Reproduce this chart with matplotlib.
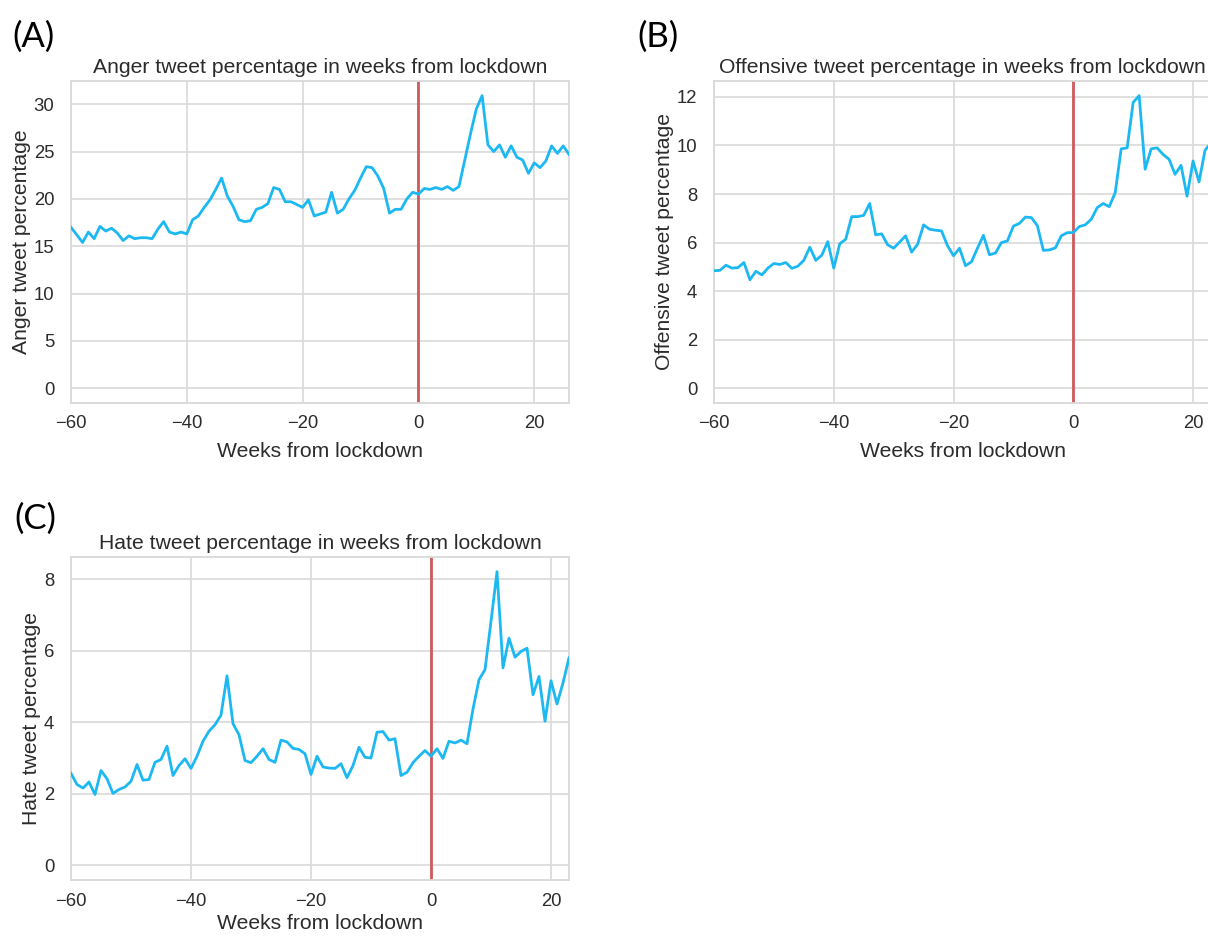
"""Three-panel tweet percentage figure: anger, offensive, hate vs weeks from lockdown."""

import matplotlib
matplotlib.use("Agg")
import matplotlib.pyplot as plt

LINE_BLUE = "#1cb8f2"
LOCK_RED = "#d0595b"
GRID = "#d9d9d9"
INK = "#2b2b2b"

plt.rcParams.update({
    "font.family": ["Liberation Sans", "DejaVu Sans"],
    "text.color": INK,
    "axes.labelcolor": INK,
    "xtick.color": INK,
    "ytick.color": INK,
    "axes.edgecolor": GRID,
    "axes.linewidth": 1.3,
    "grid.color": GRID,
    "grid.linewidth": 1.2,
    "xtick.major.size": 0,
    "ytick.major.size": 0,
    "xtick.labelsize": 13.3,
    "ytick.labelsize": 13.3,
    "axes.labelsize": 15.2,
    "axes.titlesize": 15.2,
})

# weeks relative to lockdown
WEEKS_A = list(range(-60, 27))
WEEKS_BC = list(range(-60, 24))

ANGER = [17.0, 16.2, 15.4, 16.5, 15.8, 17.1, 16.6, 16.9, 16.4, 15.6, 16.1,
         15.8, 15.9, 15.9, 15.8, 16.8, 17.6, 16.5, 16.3, 16.5, 16.3,
         17.8, 18.2, 19.1, 19.9, 21.0, 22.2, 20.3, 19.2, 17.8, 17.6,
         17.7, 18.9, 19.1, 19.5, 21.2, 21.0, 19.7, 19.7, 19.4, 19.1,
         19.9, 18.2, 18.4, 18.6, 20.7, 18.5, 18.9, 20.0, 20.9, 22.2,
         23.4, 23.3, 22.4, 21.1, 18.5, 18.9, 18.9, 20.0, 20.7, 20.5,
         21.1, 21.0, 21.2, 21.0, 21.3, 20.9, 21.3, 24.1, 26.9, 29.5,
         30.9, 25.7, 25.0, 25.7, 24.4, 25.6, 24.4, 24.1, 22.7, 23.8,
         23.3, 24.0, 25.6, 24.8, 25.6, 24.7]

OFFENSIVE = [4.84, 4.86, 5.07, 4.95, 4.97, 5.18, 4.47, 4.82, 4.67, 4.95, 5.14,
             5.10, 5.18, 4.94, 5.03, 5.27, 5.81, 5.27, 5.48, 6.04, 4.95,
             5.95, 6.14, 7.07, 7.07, 7.12, 7.61, 6.32, 6.36, 5.91, 5.77,
             6.02, 6.28, 5.61, 5.93, 6.73, 6.55, 6.51, 6.48, 5.87, 5.46,
             5.77, 5.05, 5.21, 5.77, 6.30, 5.50, 5.57, 6.00, 6.07, 6.68,
             6.79, 7.05, 7.03, 6.70, 5.68, 5.70, 5.78, 6.28, 6.41, 6.41,
             6.66, 6.73, 6.96, 7.44, 7.61, 7.48, 8.05, 9.86, 9.90, 11.77,
             12.05, 9.02, 9.86, 9.90, 9.63, 9.43, 8.81, 9.18, 7.91, 9.36,
             8.50, 9.80, 10.1]

HATE = [2.57, 2.26, 2.16, 2.33, 1.98, 2.65, 2.42, 2.01, 2.12, 2.19, 2.35,
        2.82, 2.38, 2.40, 2.88, 2.96, 3.33, 2.51, 2.79, 2.98, 2.71,
        3.05, 3.47, 3.75, 3.93, 4.20, 5.30, 3.96, 3.65, 2.93, 2.87,
        3.05, 3.26, 2.96, 2.88, 3.50, 3.45, 3.27, 3.24, 3.12, 2.54,
        3.05, 2.75, 2.72, 2.71, 2.84, 2.45, 2.79, 3.30, 3.02, 3.00,
        3.72, 3.74, 3.50, 3.54, 2.51, 2.60, 2.87, 3.05, 3.21, 3.05,
        3.26, 2.99, 3.47, 3.42, 3.50, 3.40, 4.37, 5.19, 5.47, 6.82,
        8.21, 5.52, 6.35, 5.82, 5.98, 6.07, 4.77, 5.28, 4.03, 5.16,
        4.51, 5.10, 5.80]

X_TICKS = [-60, -40, -20, 0, 20]
Y_TICKS_A = [0, 5, 10, 15, 20, 25, 30]
Y_TICKS_B = [0, 2, 4, 6, 8, 10, 12]
Y_TICKS_C = [0, 2, 4, 6, 8]

W, H = 1208, 936


def px_rect(left, top, right, bottom):
    """Axes rect from pixel edges (origin top-left)."""
    return [left / W, 1 - bottom / H, (right - left) / W, (bottom - top) / H]


def panel(fig, rect, weeks, values, yticks, title, ylabel, xpad=7):
    ax = fig.add_axes(rect)
    ax.set_axisbelow(True)
    ax.grid(True, zorder=0)
    ax.plot(weeks, values, color=LINE_BLUE, lw=2.0, zorder=3)
    ax.axvline(0, color=LOCK_RED, lw=2.0, zorder=2)
    top = max(values)
    ax.set_ylim(-0.05 * top, 1.05 * top)
    ax.set_xlim(weeks[0], weeks[-1])
    ax.set_xticks(X_TICKS)
    ax.set_yticks(yticks)
    ax.tick_params(axis="x", pad=9)
    ax.tick_params(axis="y", pad=12)
    ax.set_title(title, pad=6)
    ax.set_xlabel("Weeks from lockdown", labelpad=xpad)
    ax.set_ylabel(ylabel, labelpad=2)
    return ax


fig = plt.figure(figsize=(W / 100, H / 100), dpi=100)

panel(fig, px_rect(71, 81, 569, 403), WEEKS_A, ANGER, Y_TICKS_A,
      "Anger tweet percentage in weeks from lockdown", "Anger tweet percentage")
panel(fig, px_rect(714, 81, 1211, 403), WEEKS_BC, OFFENSIVE, Y_TICKS_B,
      "Offensive tweet percentage in weeks from lockdown",
      "Offensive tweet percentage")
panel(fig, px_rect(71, 557, 569, 880), WEEKS_BC, HATE, Y_TICKS_C,
      "Hate tweet percentage in weeks from lockdown", "Hate tweet percentage",
      xpad=3)

for label, x, y in [("(A)", 12, 47), ("(B)", 637, 47), ("(C)", 14, 529)]:
    fig.text(x / W, 1 - y / H, label, fontsize=25, color="black",
             family=["Lato", "DejaVu Sans"], ha="left", va="baseline")

fig.savefig("out.png", dpi=100)
